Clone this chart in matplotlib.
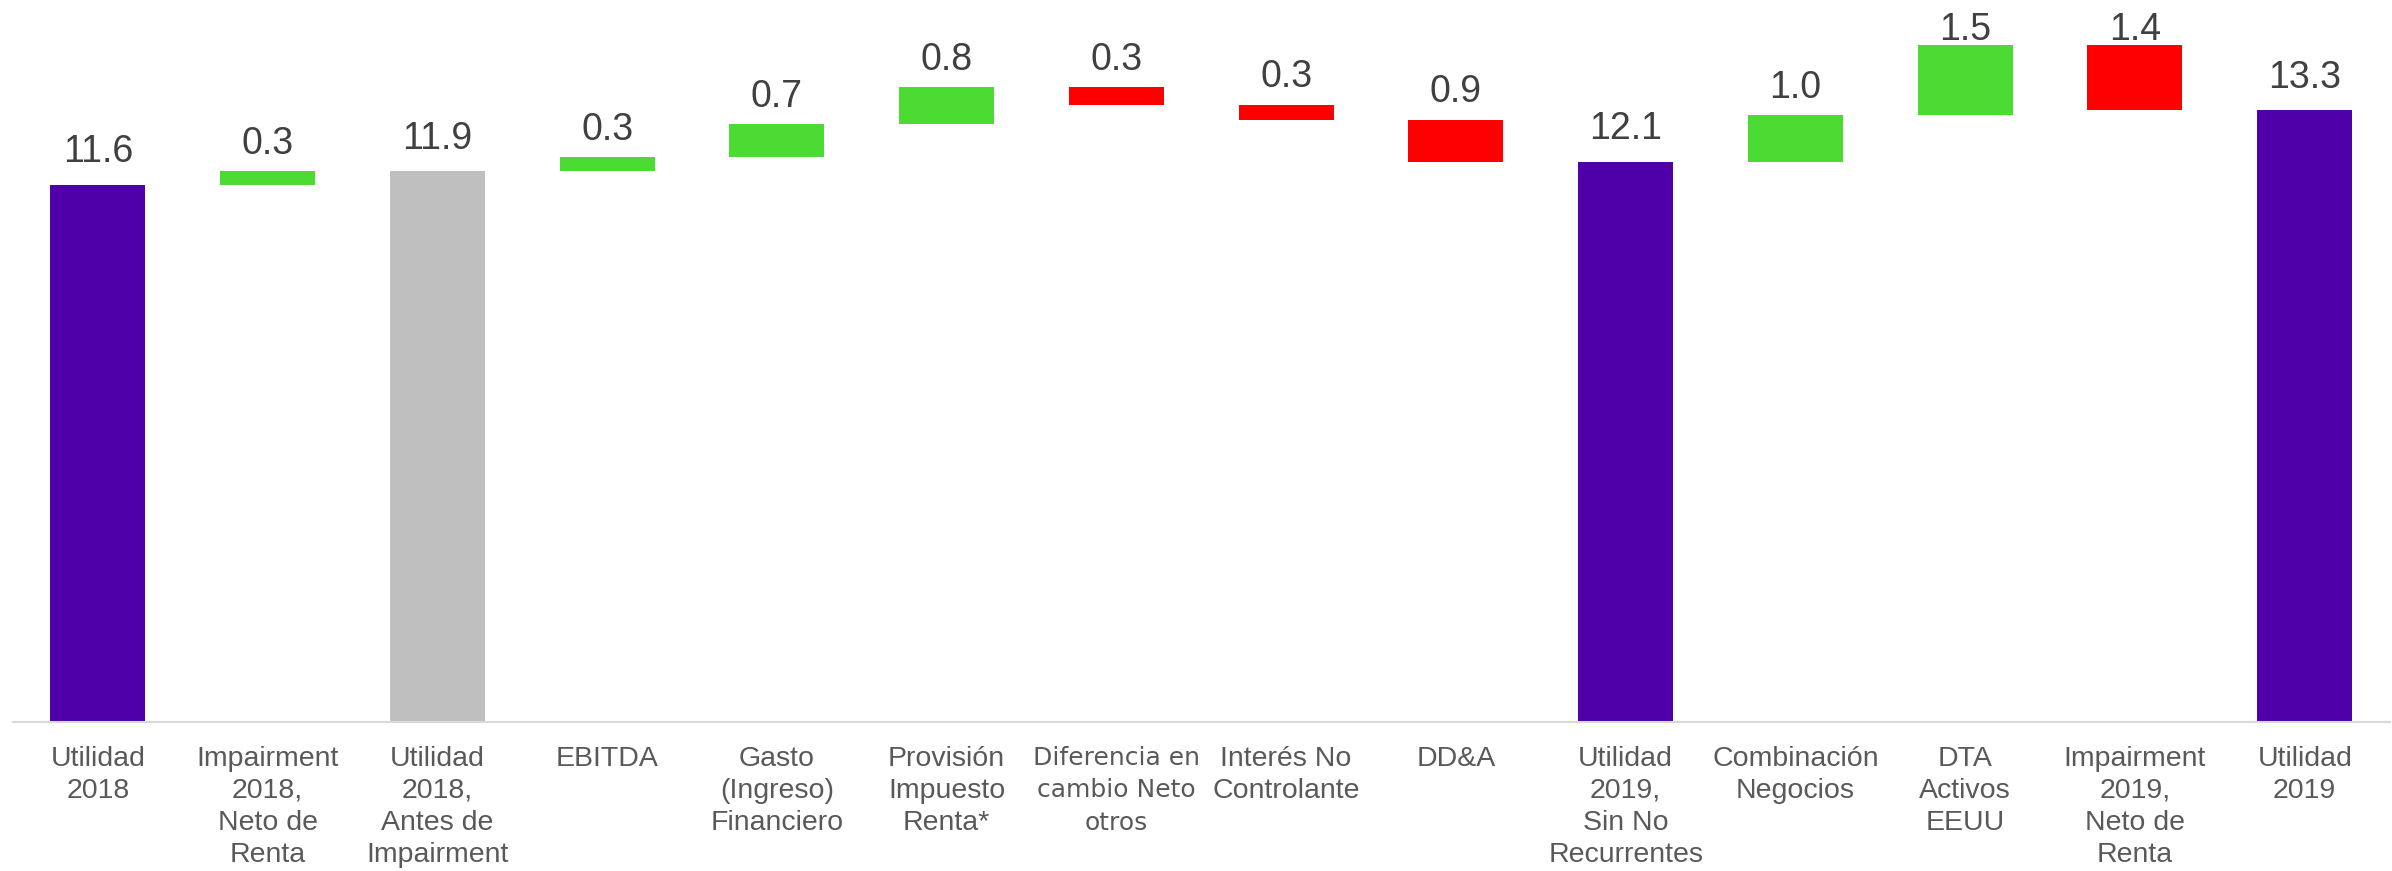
import matplotlib
matplotlib.use('Agg')
import matplotlib.pyplot as plt
import numpy as np

# waterfall: utilidad 2018 -> 2019
categories = ['Utilidad\n2018', 'Impairment\n2018,\nNeto de\nRenta', 'Utilidad\n2018,\nAntes de\nImpairment',
              'EBITDA', 'Gasto\n(Ingreso)\nFinanciero', 'Provisión\nImpuesto\nRenta*',
              'Diferencia en\ncambio Neto\notros', 'Interés No\nControlante', 'DD&A',
              'Utilidad\n2019,\nSin No\nRecurrentes', 'Combinación\nNegocios', 'DTA\nActivos\nEEUU',
              'Impairment\n2019,\nNeto de\nRenta', 'Utilidad\n2019']
kinds = ['total', 'delta', 'subtotal', 'delta', 'delta', 'delta', 'delta', 'delta', 'delta',
         'total', 'delta', 'delta', 'delta', 'total']
deltas = [11.62, 0.30, 0, 0.30, 0.71, 0.80, -0.38, -0.32, -0.91, 0, 1.01, 1.51, -1.41, 0]
value_labels = ['11.6', '0.3', '11.9', '0.3', '0.7', '0.8', '0.3', '0.3', '0.9',
                '12.1', '1.0', '1.5', '1.4', '13.3']

PURPLE = '#4F00A8'
GRAY = '#BFBFBF'
GREEN = '#4CDB32'
RED = '#FF0000'

bottoms, heights, colors = [], [], []
running = 0.0
for k, d in zip(kinds, deltas):
    if k in ('total', 'subtotal'):
        running += d
        bottoms.append(0)
        heights.append(running)
        colors.append(PURPLE if k == 'total' else GRAY)
    else:
        bottoms.append(min(running, running + d))
        heights.append(abs(d))
        colors.append(GREEN if d > 0 else RED)
        running += d

fig = plt.figure(figsize=(23.92, 8.71), dpi=100)
ax = fig.add_axes([0.0054, 0.171, 0.9936, 0.829])
YMAX = 15.62
ppu = 0.829 * 871 / YMAX  # pixels per data unit

x = np.arange(len(categories))
ax.bar(x, heights, bottom=bottoms, width=0.56, color=colors)

# label gap in pixels, totals sit a bit higher; cap near the top edge
gap_px = {'total': 22.5, 'subtotal': 22.5, 'delta': 17.5}
cap_y = YMAX - 40 / ppu
for xi, b, h, k, lab in zip(x, bottoms, heights, kinds, value_labels):
    y = min(b + h + gap_px[k] / ppu, cap_y)
    ax.text(xi, y, lab, ha='center', va='baseline', fontsize=27, color='#404040',
            family=['Liberation Sans', 'DejaVu Sans'], clip_on=False)

ax.set_xlim(-0.5, len(categories) - 0.5)
ax.set_ylim(0, YMAX)
ax.set_xticks(x)
ax.set_xticklabels(categories, fontsize=20.5, color='#595959', linespacing=1.3,
                   family=['Liberation Sans', 'DejaVu Sans'])
odd = ax.get_xticklabels()[6]
odd.set_family('DejaVu Sans')
odd.set_fontsize(18)
odd.set_linespacing(1.45)
ax.tick_params(axis='x', length=0, pad=17)
ax.set_yticks([])
for s in ['top', 'left', 'right']:
    ax.spines[s].set_visible(False)
ax.spines['bottom'].set_color('#D9D9D9')
ax.spines['bottom'].set_linewidth(1.5)

fig.savefig('out.png', dpi=100)
